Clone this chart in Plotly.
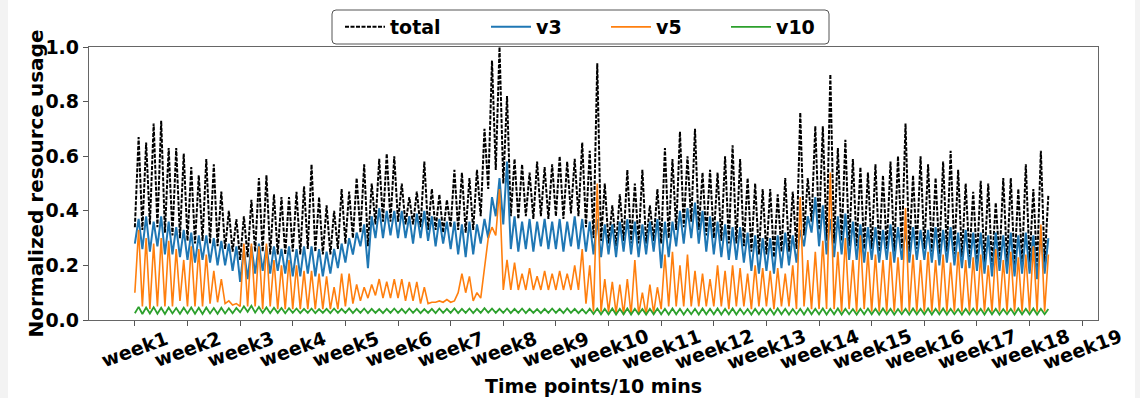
import plotly.graph_objects as go

# ---------------- data (one peak / trough per day) ----------------
POINTS_PER_DAY = 144          # 10-minute points per day
POINTS_PER_WEEK = 1008

week_labels = ["week%d" % k for k in range(1, 20)]
week_ticks = [i * POINTS_PER_WEEK for i in range(19)]

total_hi = [0.67, 0.65, 0.72, 0.73, 0.63, 0.63, 0.61,
            0.56, 0.53, 0.59, 0.57, 0.47, 0.40, 0.37,
            0.38, 0.44, 0.52, 0.53, 0.46, 0.45, 0.45,
            0.47, 0.49, 0.57, 0.45, 0.42, 0.40, 0.48,
            0.47, 0.52, 0.57, 0.50, 0.59, 0.61, 0.60,
            0.50, 0.45, 0.47, 0.58, 0.48, 0.46, 0.44,
            0.55, 0.54, 0.52, 0.55, 0.70, 0.95, 1.00,
            0.82, 0.59, 0.57, 0.54, 0.58, 0.56, 0.57,
            0.60, 0.58, 0.59, 0.65, 0.62, 0.94, 0.50,
            0.42, 0.46, 0.55, 0.50, 0.55, 0.42, 0.48,
            0.63, 0.59, 0.69, 0.60, 0.70, 0.54, 0.55,
            0.54, 0.60, 0.64, 0.59, 0.52, 0.50, 0.48,
            0.48, 0.46, 0.52, 0.47, 0.76, 0.52, 0.71,
            0.71, 0.90, 0.63, 0.66, 0.59, 0.56, 0.54,
            0.57, 0.53, 0.58, 0.60, 0.72, 0.53, 0.60,
            0.57, 0.52, 0.58, 0.62, 0.55, 0.50, 0.47,
            0.51, 0.50, 0.43, 0.52, 0.52, 0.48, 0.57,
            0.48, 0.62, 0.46]
total_lo = [0.34, 0.33, 0.35, 0.34, 0.32, 0.31, 0.30,
            0.29, 0.28, 0.29, 0.28, 0.27, 0.26, 0.25,
            0.22, 0.23, 0.25, 0.25, 0.24, 0.24, 0.24,
            0.25, 0.24, 0.26, 0.25, 0.24, 0.24, 0.26,
            0.28, 0.30, 0.32, 0.27, 0.35, 0.36, 0.36,
            0.36, 0.35, 0.35, 0.34, 0.33, 0.33, 0.32,
            0.34, 0.33, 0.32, 0.33, 0.38, 0.48, 0.55,
            0.50, 0.38, 0.37, 0.38, 0.37, 0.38, 0.37,
            0.38, 0.37, 0.39, 0.38, 0.34, 0.30, 0.29,
            0.28, 0.27, 0.29, 0.28, 0.28, 0.28, 0.29,
            0.28, 0.30, 0.33, 0.34, 0.36, 0.33, 0.31,
            0.30, 0.29, 0.28, 0.28, 0.27, 0.25, 0.24,
            0.24, 0.23, 0.25, 0.25, 0.26, 0.31, 0.36,
            0.33, 0.29, 0.28, 0.29, 0.27, 0.27, 0.26,
            0.26, 0.25, 0.26, 0.25, 0.26, 0.25, 0.26,
            0.26, 0.25, 0.24, 0.25, 0.24, 0.23, 0.23,
            0.22, 0.21, 0.20, 0.22, 0.21, 0.20, 0.21,
            0.21, 0.19, 0.21]

v3_hi = [0.37, 0.38, 0.36, 0.38, 0.36, 0.34, 0.33,
         0.32, 0.31, 0.31, 0.30, 0.29, 0.28, 0.27,
         0.26, 0.27, 0.28, 0.27, 0.27, 0.26, 0.27,
         0.26, 0.27, 0.27, 0.26, 0.25, 0.26, 0.28,
         0.30, 0.32, 0.35, 0.38, 0.41, 0.40, 0.40,
         0.40, 0.38, 0.39, 0.40, 0.38, 0.37, 0.36,
         0.36, 0.35, 0.36, 0.35, 0.37, 0.45, 0.52,
         0.58, 0.38, 0.36, 0.37, 0.36, 0.37, 0.36,
         0.37, 0.36, 0.38, 0.37, 0.36, 0.37, 0.35,
         0.35, 0.36, 0.37, 0.36, 0.35, 0.36, 0.37,
         0.36, 0.36, 0.40, 0.41, 0.43, 0.40, 0.38,
         0.36, 0.35, 0.34, 0.34, 0.32, 0.31, 0.30,
         0.30, 0.31, 0.32, 0.31, 0.33, 0.38, 0.45,
         0.42, 0.37, 0.38, 0.39, 0.36, 0.35, 0.34,
         0.34, 0.33, 0.35, 0.34, 0.33, 0.34, 0.33,
         0.33, 0.34, 0.33, 0.34, 0.32, 0.33, 0.32,
         0.32, 0.31, 0.32, 0.31, 0.32, 0.31, 0.32,
         0.31, 0.32, 0.30]
v3_lo = [0.28, 0.26, 0.25, 0.27, 0.24, 0.24, 0.23,
         0.22, 0.21, 0.22, 0.21, 0.20, 0.20, 0.18,
         0.14, 0.15, 0.17, 0.18, 0.17, 0.18, 0.17,
         0.16, 0.16, 0.17, 0.16, 0.16, 0.17, 0.19,
         0.21, 0.24, 0.27, 0.19, 0.30, 0.30, 0.31,
         0.30, 0.30, 0.28, 0.30, 0.29, 0.27, 0.28,
         0.26, 0.24, 0.23, 0.24, 0.28, 0.30, 0.38,
         0.35, 0.26, 0.25, 0.26, 0.25, 0.27, 0.26,
         0.26, 0.25, 0.27, 0.26, 0.25, 0.24, 0.23,
         0.24, 0.23, 0.25, 0.24, 0.23, 0.24, 0.25,
         0.19, 0.23, 0.27, 0.28, 0.30, 0.28, 0.25,
         0.24, 0.23, 0.22, 0.22, 0.21, 0.18, 0.17,
         0.18, 0.17, 0.19, 0.20, 0.21, 0.27, 0.32,
         0.27, 0.24, 0.23, 0.24, 0.22, 0.22, 0.21,
         0.22, 0.21, 0.22, 0.21, 0.22, 0.21, 0.22,
         0.22, 0.21, 0.20, 0.21, 0.20, 0.19, 0.19,
         0.18, 0.17, 0.16, 0.18, 0.17, 0.16, 0.17,
         0.17, 0.15, 0.17]

v5_hi = [0.33, 0.30, 0.28, 0.30, 0.29, 0.26, 0.22,
         0.27, 0.26, 0.24, 0.18, 0.15, 0.07, 0.06,
         0.28, 0.28, 0.27, 0.28, 0.22, 0.20, 0.22,
         0.20, 0.18, 0.18, 0.17, 0.16, 0.12, 0.17,
         0.17, 0.13, 0.12, 0.13, 0.15, 0.14, 0.15,
         0.15, 0.14, 0.14, 0.12, 0.065, 0.07, 0.075,
         0.07, 0.17, 0.16, 0.10, 0.20, 0.34, 0.48,
         0.22, 0.21, 0.17, 0.19, 0.16, 0.18, 0.17,
         0.18, 0.17, 0.20, 0.26, 0.20, 0.50, 0.15,
         0.14, 0.13, 0.15, 0.22, 0.10, 0.13, 0.12,
         0.24, 0.25, 0.20, 0.24, 0.18, 0.17, 0.15,
         0.20, 0.18, 0.20, 0.19, 0.17, 0.20, 0.19,
         0.18, 0.19, 0.17, 0.20, 0.45, 0.22, 0.25,
         0.29, 0.54, 0.25, 0.30, 0.22, 0.31, 0.25,
         0.24, 0.22, 0.25, 0.23, 0.41, 0.24, 0.22,
         0.25, 0.22, 0.24, 0.21, 0.25, 0.22, 0.23,
         0.24, 0.20, 0.26, 0.22, 0.25, 0.23, 0.24,
         0.27, 0.35, 0.24]
v5_lo = [0.10, 0.05, 0.04, 0.05, 0.05, 0.05, 0.07,
         0.05, 0.05, 0.05, 0.06, 0.065, 0.06, 0.055,
         0.05, 0.05, 0.05, 0.04, 0.05, 0.04, 0.04,
         0.04, 0.04, 0.04, 0.04, 0.04, 0.04, 0.04,
         0.05, 0.06, 0.07, 0.08, 0.09, 0.08, 0.08,
         0.08, 0.07, 0.07, 0.06, 0.06, 0.065, 0.065,
         0.065, 0.10, 0.10, 0.07, 0.08, 0.30, 0.31,
         0.11, 0.11, 0.11, 0.11, 0.11, 0.11, 0.11,
         0.11, 0.11, 0.11, 0.11, 0.06, 0.03, 0.03,
         0.03, 0.025, 0.02, 0.02, 0.02, 0.02, 0.025,
         0.04, 0.05, 0.05, 0.05, 0.05, 0.05, 0.05,
         0.05, 0.05, 0.04, 0.05, 0.05, 0.04, 0.05,
         0.05, 0.04, 0.05, 0.05, 0.04, 0.05, 0.04,
         0.04, 0.04, 0.04, 0.03, 0.04, 0.03, 0.04,
         0.03, 0.03, 0.03, 0.03, 0.03, 0.03, 0.03,
         0.03, 0.03, 0.03, 0.03, 0.03, 0.03, 0.03,
         0.03, 0.03, 0.03, 0.03, 0.03, 0.03, 0.03,
         0.03, 0.03, 0.03]

v10_hi = [0.048, 0.046, 0.047, 0.045, 0.046, 0.044, 0.045,
          0.046, 0.045, 0.046, 0.044, 0.045, 0.043, 0.044,
          0.050, 0.052, 0.048, 0.046, 0.045, 0.044, 0.043,
          0.042, 0.041, 0.042, 0.040, 0.041, 0.042, 0.041,
          0.042, 0.041, 0.042, 0.041, 0.040, 0.041, 0.042,
          0.041, 0.042, 0.041, 0.040, 0.041, 0.042, 0.041,
          0.042, 0.041, 0.042, 0.041, 0.043, 0.042, 0.041,
          0.042, 0.041, 0.042, 0.041, 0.040, 0.041, 0.042,
          0.041, 0.042, 0.041, 0.040, 0.041, 0.042, 0.041,
          0.042, 0.041, 0.042, 0.041, 0.040, 0.041, 0.042,
          0.041, 0.042, 0.041, 0.040, 0.041, 0.042, 0.041,
          0.042, 0.041, 0.042, 0.041, 0.040, 0.041, 0.042,
          0.041, 0.042, 0.041, 0.040, 0.041, 0.042, 0.041,
          0.042, 0.041, 0.042, 0.041, 0.040, 0.041, 0.042,
          0.041, 0.042, 0.041, 0.040, 0.041, 0.042, 0.041,
          0.042, 0.041, 0.042, 0.041, 0.040, 0.041, 0.042,
          0.041, 0.042, 0.041, 0.040, 0.041, 0.042, 0.041,
          0.042, 0.041, 0.040]
v10_lo = [0.025, 0.022, 0.024, 0.023, 0.022, 0.024, 0.023,
          0.024, 0.023, 0.022, 0.024, 0.023, 0.024, 0.025,
          0.028, 0.030, 0.027, 0.026, 0.025, 0.026, 0.025,
          0.026, 0.025, 0.026, 0.025, 0.026, 0.025, 0.026,
          0.026, 0.025, 0.026, 0.025, 0.026, 0.025, 0.026,
          0.026, 0.025, 0.026, 0.025, 0.026, 0.025, 0.026,
          0.026, 0.025, 0.026, 0.025, 0.026, 0.027, 0.026,
          0.026, 0.025, 0.026, 0.025, 0.026, 0.025, 0.026,
          0.026, 0.025, 0.026, 0.025, 0.024, 0.022, 0.021,
          0.021, 0.020, 0.021, 0.020, 0.021, 0.020, 0.021,
          0.021, 0.020, 0.021, 0.020, 0.021, 0.020, 0.021,
          0.021, 0.020, 0.021, 0.020, 0.021, 0.020, 0.021,
          0.021, 0.020, 0.021, 0.020, 0.021, 0.020, 0.021,
          0.021, 0.020, 0.021, 0.020, 0.021, 0.020, 0.021,
          0.021, 0.020, 0.021, 0.020, 0.021, 0.020, 0.021,
          0.021, 0.020, 0.021, 0.020, 0.021, 0.020, 0.021,
          0.021, 0.020, 0.021, 0.020, 0.021, 0.020, 0.021,
          0.021, 0.020, 0.021]


def daily_series(lo, hi):
    """Interleave each day's trough (start of day) and peak (mid-day)."""
    xs, ys = [], []
    for d, (a, b) in enumerate(zip(lo, hi)):
        xs += [d * POINTS_PER_DAY, d * POINTS_PER_DAY + POINTS_PER_DAY // 2]
        ys += [a, b]
    return xs, ys


FONT = "DejaVu Sans"
FS = 19
bold = dict(family=FONT, size=FS, color="black", weight="bold")

fig = go.Figure()
specs = [
    ("total", total_lo, total_hi, dict(color="black", width=2.0, dash="4px,1.5px"), "legend"),
    ("v3", v3_lo, v3_hi, dict(color="#1f77b4", width=2.0), "legend2"),
    ("v5", v5_lo, v5_hi, dict(color="#ff7f0e", width=1.6), "legend3"),
    ("v10", v10_lo, v10_hi, dict(color="#2ca02c", width=1.8), "legend4"),
]
for name, lo, hi, line, leg in specs:
    xs, ys = daily_series(lo, hi)
    fig.add_trace(go.Scatter(x=xs, y=ys, mode="lines", name=name, line=line,
                             legend=leg, hoverinfo="skip"))

n_points = len(total_hi) * POINTS_PER_DAY
pad = 0.05 * n_points

L, R, T, B = 89, 42, 47, 78
W, H = 1140, 398
pw, ph = W - L - R, H - T - B


def px_x(p):
    return (p - L) / pw


def px_y(p):
    return (H - B - p) / ph


leg_common = dict(orientation="h", yanchor="middle", xanchor="left",
                  y=px_y(27), bgcolor="rgba(0,0,0,0)", borderwidth=0,
                  font=bold, itemwidth=40)
text_starts = [394, 540, 660, 780]
legends = {}
for key, ts in zip(["legend", "legend2", "legend3", "legend4"], text_starts):
    legends[key] = dict(leg_common, x=px_x(ts - 54))

annotations = []
for tv, tl in zip(week_ticks, week_labels):
    annotations.append(dict(x=tv, y=px_y(349), xref="x", yref="paper", text=tl,
                            showarrow=False, textangle=-20, font=bold,
                            xanchor="center", yanchor="middle"))
annotations.append(dict(x=0.5, y=px_y(386), xref="paper", yref="paper",
                        text="Time points/10 mins", showarrow=False, font=bold,
                        xanchor="center", yanchor="middle"))
annotations.append(dict(x=px_x(35), y=0.5, xref="paper", yref="paper",
                        text="Normalized resource usage", showarrow=False,
                        textangle=-90, font=dict(bold, size=20),
                        xanchor="center", yanchor="middle"))

# rounded legend frame
x0, x1 = px_x(332), px_x(829)
y0, y1 = px_y(44), px_y(10)
rx, ry = 4 / pw, 4 / ph
frame = (f"M{x0+rx},{y1} L{x1-rx},{y1} Q{x1},{y1} {x1},{y1-ry} L{x1},{y0+ry} "
         f"Q{x1},{y0} {x1-rx},{y0} L{x0+rx},{y0} Q{x0},{y0} {x0},{y0+ry} "
         f"L{x0},{y1-ry} Q{x0},{y1} {x0+rx},{y1} Z")
shapes = [
    dict(type="path", path=frame, xref="paper", yref="paper",
         line=dict(color="#555555", width=1), fillcolor="white", layer="above"),
    dict(type="rect", xref="paper", yref="paper", x0=px_x(0), x1=px_x(8),
         y0=px_y(H), y1=px_y(0), line=dict(width=0), fillcolor="#f3f3f3", layer="below"),
    dict(type="rect", xref="paper", yref="paper", x0=px_x(1135), x1=px_x(W),
         y0=px_y(H), y1=px_y(0), line=dict(width=0), fillcolor="#f3f3f3", layer="below"),
]

fig.update_layout(
    width=W, height=H,
    margin=dict(l=L, r=R, t=T, b=B, autoexpand=False),
    paper_bgcolor="white", plot_bgcolor="white",
    showlegend=True,
    annotations=annotations, shapes=shapes,
    **legends,
)
fig.update_xaxes(range=[-pad, n_points + pad], tickvals=week_ticks,
                 showticklabels=False, ticks="outside", ticklen=5, tickwidth=1,
                 tickcolor="#555555", showgrid=False, zeroline=False,
                 showline=True, linecolor="#666666", linewidth=1.3, mirror=True)
fig.update_yaxes(range=[0, 1.0], tickvals=[0, 0.2, 0.4, 0.6, 0.8, 1.0],
                 tickformat=".1f", tickfont=bold, ticks="outside", ticklen=5,
                 tickwidth=1, tickcolor="#555555", showgrid=False, zeroline=False,
                 showline=True, linecolor="#666666", linewidth=1.3, mirror=True)

fig.write_html("out.html")
